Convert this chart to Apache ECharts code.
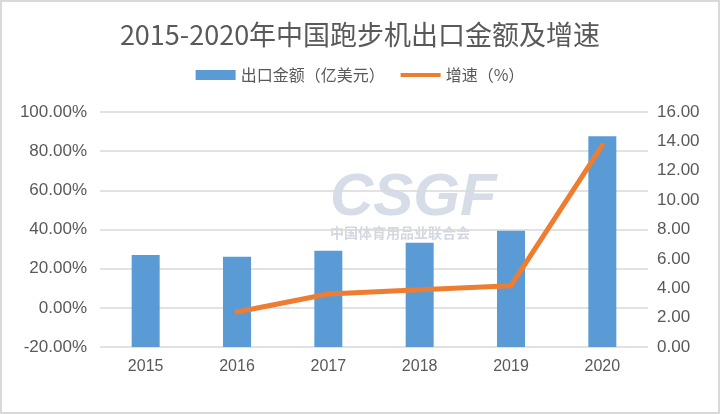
<!DOCTYPE html>
<html>
<head>
<meta charset="utf-8">
<script src="https://cdn.jsdelivr.net/npm/echarts@6/dist/echarts.min.js"></script>
<style>
html,body{margin:0;padding:0;background:#fff;}
#main{width:720px;height:414px;}
</style>
</head>
<body>
<div id="main"></div>
<script>
// 年份
var years = ['2015', '2016', '2017', '2018', '2019', '2020'];
// 出口金额（亿美元），右轴
var exportValue = [6.27, 6.14, 6.55, 7.10, 7.92, 14.35];
// 增速（%），左轴，2015年无数据
var growthRate = [null, -2.1, 7.1, 9.2, 11.3, 83.0];

var chart = echarts.init(document.getElementById('main'));
var textColor = '#595959';
var option = {
    animation: false,
    backgroundColor: '#fff',
    title: {
        text: '2015-2020年中国跑步机出口金额及增速',
        left: 'center',
        top: 16,
        textStyle: {
            color: textColor,
            fontSize: 27,
            fontWeight: 'normal',
            fontFamily: 'Noto Sans CJK SC'
        }
    },
    legend: {
        top: 62,
        left: 'center',
        itemWidth: 40,
        itemHeight: 10,
        itemGap: 16,
        textStyle: {
            color: textColor,
            fontSize: 16,
            fontFamily: 'Noto Sans CJK SC'
        },
        data: [
            {name: '出口金额（亿美元）', icon: 'rect'},
            {name: '增速（%）', icon: 'path://M0,0L40,0L40,4L0,4Z'}
        ]
    },
    grid: {
        left: 100,
        right: 72,
        top: 112,
        bottom: 67
    },
    graphic: [
        {
            type: 'text',
            left: 330,
            top: 168,
            z: -1,
            style: {
                text: 'CSGF',
                fill: '#d6dde8',
                font: 'italic bold 60px "Liberation Sans"'
            }
        },
        {
            type: 'text',
            left: 330,
            top: 226,
            z: -1,
            style: {
                text: '中国体育用品业联合会',
                fill: '#d3d8e0',
                font: 'bold 14px "Noto Sans CJK SC"'
            }
        },
        {
            type: 'rect',
            shape: {x: 1, y: 1, width: 718, height: 412},
            style: {fill: 'none', stroke: '#d9d9d9', lineWidth: 2}
        }
    ],
    xAxis: {
        type: 'category',
        data: years,
        axisLine: {show: false},
        axisTick: {show: false},
        axisLabel: {
            color: textColor,
            fontSize: 16,
            margin: 12,
            fontFamily: 'Liberation Sans'
        }
    },
    yAxis: [
        {
            type: 'value',
            min: -20,
            max: 100,
            interval: 20,
            axisLine: {show: false},
            axisTick: {show: false},
            splitLine: {lineStyle: {color: '#d9d9d9', width: 1.5}},
            axisLabel: {
                color: textColor,
                fontSize: 17,
                margin: 13,
                fontFamily: 'Liberation Sans',
                formatter: function (v) { return v.toFixed(2) + '%'; }
            }
        },
        {
            type: 'value',
            min: 0,
            max: 16,
            interval: 2,
            axisLine: {show: false},
            axisTick: {show: false},
            splitLine: {show: false},
            axisLabel: {
                color: textColor,
                fontSize: 17,
                margin: 9,
                fontFamily: 'Liberation Sans',
                formatter: function (v) { return v.toFixed(2); }
            }
        }
    ],
    series: [
        {
            name: '出口金额（亿美元）',
            type: 'bar',
            yAxisIndex: 1,
            barWidth: 28,
            itemStyle: {color: '#5b9bd5'},
            data: exportValue
        },
        {
            name: '增速（%）',
            type: 'line',
            yAxisIndex: 0,
            symbol: 'none',
            connectNulls: false,
            lineStyle: {color: '#ed7d31', width: 5, cap: 'round', join: 'round'},
            itemStyle: {color: '#ed7d31'},
            data: growthRate
        }
    ]
};
chart.setOption(option);
</script>
</body>
</html>
